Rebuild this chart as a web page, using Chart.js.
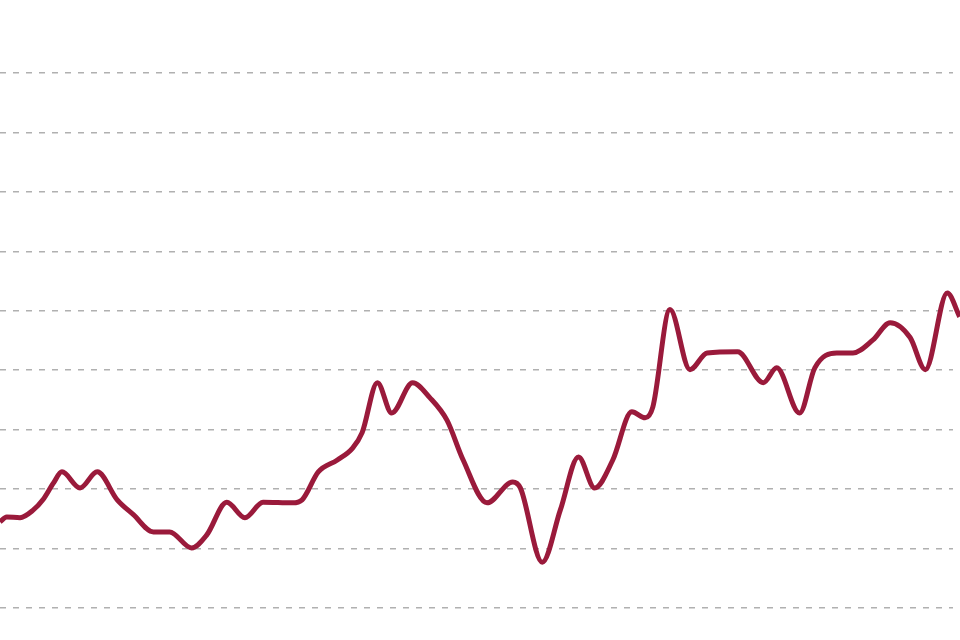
<!DOCTYPE html>
<html>
<head>
<meta charset="utf-8">
<script src="https://cdn.jsdelivr.net/npm/chart.js@4"></script>
<style>
  html, body { margin: 0; padding: 0; background: #fff; }
  #wrap { width: 960px; height: 640px; }
</style>
</head>
<body>
<div id="wrap"><canvas id="myChart"></canvas></div>
<script>
// positions along the period (0-100) and index values
const periodo = [0, 0.7, 2.1, 3.5, 4.5, 5.6, 6.5, 8.4, 10.2, 12.3, 14.0, 16.1, 17.8, 20.1, 21.7,
  23.8, 25.7, 27.6, 30.7, 31.7, 33.4, 35.4, 37.0, 38.0, 39.6, 41.1, 43.3, 45.1, 46.9, 48.6,
  51.1, 53.8, 54.6, 56.9, 58.8, 60.7, 62.4, 64.3, 66.3, 67.7, 68.5, 70.3, 72.4, 74.2, 77.4,
  80.1, 81.5, 83.9, 85.5, 87.8, 89.5, 91.6, 93.4, 95.5, 97.1, 99.4, 100.7]
const valores = [14.5, 15.3, 15.2, 16.5, 18.2, 21.0, 22.9, 20.2, 22.9, 18.2, 15.7, 12.8, 12.8, 10.1, 12.3,
  17.8, 15.2, 17.8, 17.7, 18.2, 22.9, 24.9, 26.9, 29.5, 37.9, 32.8, 37.9, 35.4, 31.6, 24.9,
  17.7, 21.2, 20.2, 7.7, 16.5, 25.4, 20.2, 24.9, 33.0, 32.0, 33.8, 50.2, 40.1, 42.9, 43.1,
  37.9, 40.4, 32.8, 40.4, 42.9, 42.9, 45.1, 48.0, 45.5, 40.1, 53.0, 49.0]
const lineasY = [0, 10, 20, 30, 40, 50, 60, 70, 80, 90]

const ctx = document.querySelector("#myChart")

const puntos = periodo.map((x, i) => ({ x: x, y: valores[i] }))

new Chart(ctx, {
  type: 'line',
  data: {
    datasets: [{
      data: puntos,
      borderColor: '#9a1a3b',
      borderWidth: 5,
      pointRadius: 0,
      cubicInterpolationMode: 'monotone',
      clip: false
    }]
  },
  options: {
    responsive: true,
    maintainAspectRatio: false,
    animation: false,
    layout: { padding: { top: 73, bottom: 32, left: 0, right: 7 } },
    plugins: { legend: { display: false }, tooltip: { enabled: false } },
    scales: {
      x: { type: 'linear', min: 0, max: 100, display: false },
      y: {
        min: 0,
        max: 90,
        afterBuildTicks: (axis) => { axis.ticks = lineasY.map(v => ({ value: v })) },
        ticks: { display: false },
        grid: {
          color: '#b0b0b0',
          lineWidth: 1.6,
          drawTicks: false,
          tickLength: 0
        },
        border: { display: false, dash: [6, 7] }
      }
    }
  }
})
</script>
</body>
</html>
